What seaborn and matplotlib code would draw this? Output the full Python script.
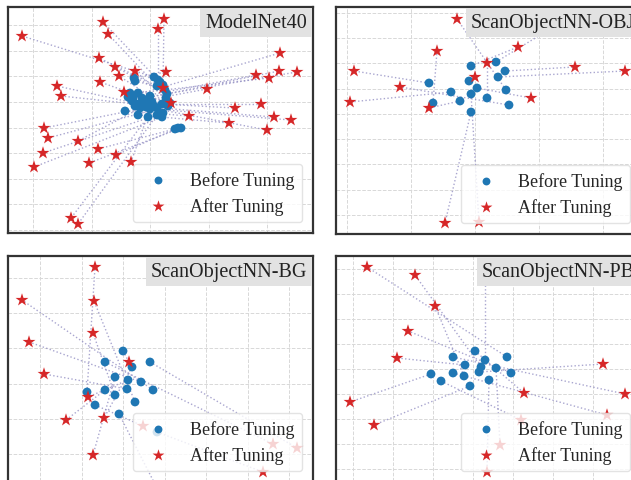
import numpy as np
import pandas as pd
import matplotlib
matplotlib.use("Agg")
import matplotlib.pyplot as plt
from matplotlib.offsetbox import AnchoredText
import seaborn as sns

# ---- data (2-D embedding coordinates) ----
# ModelNet40: before[i] is paired with after[i]
mn_before_x = [146, 152, 149, 155, 150, 157, 159, 142, 158, 126, 154, 149, 146, 159, 127, 122, 120, 125, 124, 130,
               134, 139, 135, 130, 127, 132, 117, 130, 138, 162, 160, 144, 155, 167, 170, 173, 142, 154, 140, 149]
mn_before_y = [156, 151, 147, 148, 153, 143, 139, 137, 135, 155, 129, 125, 127, 132, 152, 140, 136, 135, 132, 140,
               135, 133, 130, 129, 127, 125, 122, 118, 126, 130, 127, 131, 120, 104, 105, 105, 124, 116, 116, 118]
mn_after_x = [14, 95, 100, 156, 150, 91, 107, 111, 127, 158, 92, 49, 53, 116, 155, 163, 272, 248, 271, 261,
              289, 199, 227, 253, 266, 283, 181, 221, 259, 36, 40, 70, 35, 90, 108, 81, 123, 26, 63, 70]
mn_after_y = [197, 211, 199, 214, 204, 175, 166, 157, 162, 161, 151, 147, 137, 141, 145, 130, 180, 158, 162, 155,
              161, 144, 125, 129, 116, 113, 117, 110, 103, 105, 95, 92, 80, 84, 78, 70, 71, 66, 15, 9]

# ScanObjectNN-OBJ
obj_before_x = [170, 160, 135, 97, 151, 133, 93, 173, 115, 124, 141, 169, 162, 135, 135]
obj_before_y = [144, 172, 168, 131, 136, 153, 151, 129, 142, 133, 146, 163, 157, 122, 140]
obj_after_x = [121, 232, 182, 101, 151, 139, 18, 64, 14, 93, 195, 239, 289, 109, 143]
obj_after_y = [215, 216, 187, 183, 171, 157, 163, 147, 132, 126, 136, 167, 163, 11, 12]

# ScanObjectNN-BG
bg_before_x = [79, 127, 145, 107, 133, 115, 119, 120, 124, 97, 111, 97, 142, 149, 107, 87]
bg_before_y = [90, 80, 92, 87, 100, 131, 93, 102, 115, 92, 68, 120, 120, 50, 105, 77]
bg_after_x = [87, 86, 14, 85, 21, 121, 36, 80, 96, 58, 150, 265, 289, 255, 85, 135]
bg_after_y = [215, 181, 182, 149, 140, 120, 108, 85, 64, 62, -8, 38, 34, 10, 27, 56]

# ScanObjectNN-PB
pb_before_x = [171, 145, 149, 128, 175, 129, 95, 134, 143, 139, 117, 117, 105, 160, 153]
pb_before_y = [125, 115, 122, 106, 109, 117, 108, 96, 110, 131, 125, 109, 101, 114, 102]
pb_after_x = [31, 79, 149, 99, 72, 61, 14, 38, 267, 188, 289, 271, 185, 164, 151]
pb_after_y = [215, 207, 208, 176, 151, 124, 80, 57, 118, 89, 88, 67, 62, 37, 10]

panel_names = ["ModelNet40", "ScanObjectNN-OBJ", "ScanObjectNN-BG", "ScanObjectNN-PB"]
panel_data = [
    (mn_before_x, mn_before_y, mn_after_x, mn_after_y),
    (obj_before_x, obj_before_y, obj_after_x, obj_after_y),
    (bg_before_x, bg_before_y, bg_after_x, bg_after_y),
    (pb_before_x, pb_before_y, pb_after_x, pb_after_y),
]

# axes boxes in figure pixels (left, top, width, height); right/bottom panels run past the edge
W, H = 631, 481
boxes = [(8, 8, 305, 226), (336, 8, 305, 227), (8, 257, 305, 226), (336, 257, 305, 226)]
# grid line positions (start, step) for x and y in each panel
grids = [((25, 58.5), (3, 25.6)), ((11, 64), (19, 25.3)), ((32, 41.5), (28, 35.2)), ((17, 40), (13, 25))]

sns.set_theme(style="whitegrid")
plt.rcParams["font.family"] = ["Liberation Serif", "DejaVu Serif"]

fig = plt.figure(figsize=(W / 100, H / 100), dpi=100)

for name, (bx, by, ax_, ay_), (l, t, w, h), (gx, gy) in zip(panel_names, panel_data, boxes, grids):
    ax = fig.add_axes([l / W, 1 - (t + h) / H, w / W, h / H])
    ax.set_xlim(0, w)
    ax.set_ylim(0, h)

    # dotted links before -> after
    for x0, y0, x1, y1 in zip(bx, by, ax_, ay_):
        ax.plot([x0, x1], [y0, y1], linestyle=":", color="#9490c4", alpha=0.8,
                linewidth=1.0, zorder=1)

    df = pd.DataFrame({
        "x": list(bx) + list(ax_),
        "y": list(by) + list(ay_),
        "stage": ["Before Tuning"] * len(bx) + ["After Tuning"] * len(ax_),
    })
    sns.scatterplot(data=df, x="x", y="y", hue="stage", style="stage",
                    palette={"Before Tuning": "#1f77b4", "After Tuning": "#d62728"},
                    markers={"Before Tuning": "o", "After Tuning": "*"},
                    size="stage", sizes={"Before Tuning": 40, "After Tuning": 95},
                    linewidth=0, ax=ax, zorder=3, legend=False)

    ax.set_xticks(np.arange(gx[0], w, gx[1]))
    ax.set_yticks(np.arange(gy[0], h, gy[1]))
    ax.set_xticklabels([])
    ax.set_yticklabels([])
    ax.tick_params(length=0)
    ax.set_xlabel("")
    ax.set_ylabel("")
    ax.grid(True, linestyle="--", color="#d8d8d8", linewidth=0.7)
    for sp in ax.spines.values():
        sp.set_color("#333333")
        sp.set_linewidth(1.6)

    h1 = ax.scatter([], [], s=32, color="#1f77b4", marker="o", linewidth=0)
    h2 = ax.scatter([], [], s=80, color="#d62728", marker="*", linewidth=0)
    leg = ax.legend([h1, h2], ["Before Tuning", "After Tuning"], loc="lower right",
                    fontsize=13, frameon=True, framealpha=0.8, handlelength=2.0,
                    handletextpad=0.8, borderpad=0.4, labelspacing=0.45,
                    borderaxespad=0.6)
    leg.get_frame().set_edgecolor("#dddddd")

    at = AnchoredText(name, loc="upper right", prop=dict(size=14.5, color="#222222"),
                      frameon=True, pad=0.25, borderpad=0.05)
    at.patch.set_facecolor("#e2e2e2")
    at.patch.set_edgecolor("none")
    at.set_zorder(5)
    ax.add_artist(at)

fig.savefig("out.png", dpi=100)
